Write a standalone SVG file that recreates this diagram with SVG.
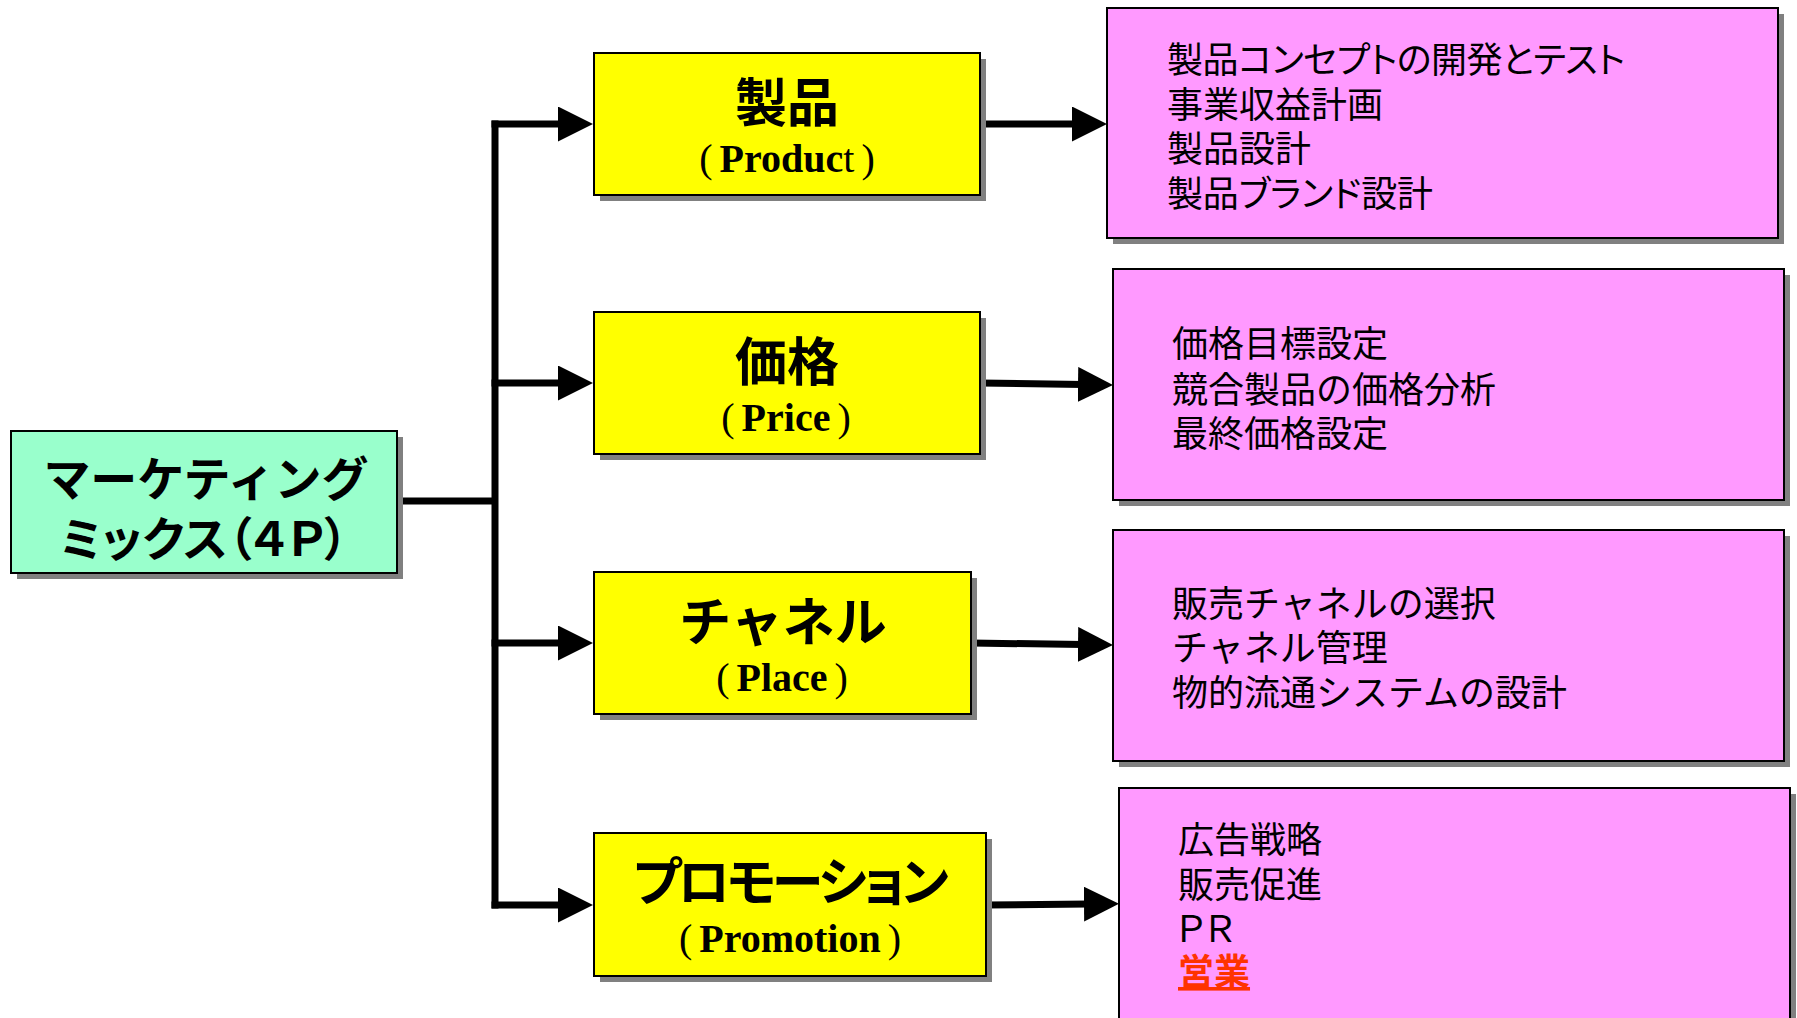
<svg xmlns="http://www.w3.org/2000/svg" width="1797" height="1018" viewBox="0 0 1797 1018">
<style>
.box{stroke:#000;stroke-width:2}
.shadow{fill:#808080}
.green{fill:#99FFCC}
.yellow{fill:#FFFF00}
.pink{fill:#FF99FF}
.conn{stroke:#000;stroke-width:7;fill:none}
.main{font-family:"Noto Sans CJK JP",sans-serif;font-weight:700;font-size:47px;fill:#000}
.cat{font-family:"Noto Sans CJK JP",sans-serif;font-weight:700;font-size:52px;fill:#000}
.en{font-family:"Liberation Serif","Noto Sans CJK JP",serif;font-size:40px;fill:#000}
.en .b{font-weight:700}
.item{font-family:"Noto Sans CJK JP",sans-serif;font-weight:400;font-size:36px;fill:#000}
.palt{font-feature-settings:"palt"}
.red{fill:#FF3300;font-weight:700;text-decoration:underline}
</style>
<defs>
<marker id="arr" markerUnits="userSpaceOnUse" markerWidth="36" markerHeight="36" refX="5" refY="17.5" orient="auto">
<path d="M0,0 L35,17.5 L0,35 Z" fill="#000"/>
</marker>
</defs>

<g id="connectors">
<line class="conn" x1="397" y1="501" x2="495" y2="501"/>
<line class="conn" x1="495" y1="120.5" x2="495" y2="908.5"/>
<line class="conn" x1="491.5" y1="124" x2="563" y2="124" marker-end="url(#arr)"/>
<line class="conn" x1="491.5" y1="383" x2="563" y2="383" marker-end="url(#arr)"/>
<line class="conn" x1="491.5" y1="643" x2="563" y2="643" marker-end="url(#arr)"/>
<line class="conn" x1="491.5" y1="905" x2="563" y2="905" marker-end="url(#arr)"/>
<line class="conn" x1="980" y1="124" x2="1077" y2="124" marker-end="url(#arr)"/>
<line class="conn" x1="980" y1="383" x2="1083" y2="384.5" marker-end="url(#arr)"/>
<line class="conn" x1="971" y1="643" x2="1083" y2="644.5" marker-end="url(#arr)"/>
<line class="conn" x1="986" y1="905" x2="1089" y2="904" marker-end="url(#arr)"/>
</g>

<g id="marketing-mix">
<rect class="shadow" x="17" y="437" width="386" height="142"/>
<rect class="box green" x="11" y="431" width="386" height="142"/>
<text class="main" x="206" y="496" text-anchor="middle">マーケティング</text>
<text class="main palt" x="204" y="556" text-anchor="middle" textLength="288">ミックス（４Ｐ）</text>
</g>

<g id="product">
<rect class="shadow" x="600" y="59" width="386" height="142"/>
<rect class="box yellow" x="594" y="53" width="386" height="142"/>
<text class="cat" x="787" y="122" text-anchor="middle">製品</text>
<text class="en" x="787" y="172" text-anchor="middle">(<tspan class="b" dx="7">Produc</tspan>t<tspan dx="7">)</tspan></text>
</g>

<g id="price">
<rect class="shadow" x="600" y="318" width="386" height="142"/>
<rect class="box yellow" x="594" y="312" width="386" height="142"/>
<text class="cat" x="787" y="381" text-anchor="middle">価格</text>
<text class="en" x="786" y="431" text-anchor="middle">(<tspan class="b" dx="7">Price</tspan><tspan dx="7">)</tspan></text>
</g>

<g id="place">
<rect class="shadow" x="600" y="578" width="377" height="142"/>
<rect class="box yellow" x="594" y="572" width="377" height="142"/>
<text class="cat" x="783" y="641" text-anchor="middle">チャネル</text>
<text class="en" x="782" y="691" text-anchor="middle">(<tspan class="b" dx="7">Place</tspan><tspan dx="7">)</tspan></text>
</g>

<g id="promotion">
<rect class="shadow" x="600" y="839" width="392" height="143"/>
<rect class="box yellow" x="594" y="833" width="392" height="143"/>
<text class="cat palt" x="791" y="901" text-anchor="middle" textLength="316">プロモーション</text>
<text class="en" x="790" y="952" text-anchor="middle">(<tspan class="b" dx="7">Promotion</tspan><tspan dx="7">)</tspan></text>
</g>

<g id="product-items">
<rect class="shadow" x="1113" y="14" width="671" height="230"/>
<rect class="box pink" x="1107" y="8" width="671" height="230"/>
<text class="item palt" x="1167" y="73" textLength="458">製品コンセプトの開発とテスト</text>
<text class="item" x="1167" y="118">事業収益計画</text>
<text class="item" x="1167" y="162">製品設計</text>
<text class="item palt" x="1167" y="207" textLength="266">製品ブランド設計</text>
</g>

<g id="price-items">
<rect class="shadow" x="1119" y="275" width="671" height="231"/>
<rect class="box pink" x="1113" y="269" width="671" height="231"/>
<text class="item" x="1172" y="357">価格目標設定</text>
<text class="item" x="1172" y="403">競合製品の価格分析</text>
<text class="item" x="1172" y="447">最終価格設定</text>
</g>

<g id="place-items">
<rect class="shadow" x="1119" y="536" width="671" height="231"/>
<rect class="box pink" x="1113" y="530" width="671" height="231"/>
<text class="item" x="1172" y="617">販売チャネルの選択</text>
<text class="item" x="1172" y="661">チャネル管理</text>
<text class="item" x="1172" y="706">物的流通システムの設計</text>
</g>

<g id="promotion-items">
<rect class="shadow" x="1125" y="794" width="671" height="240"/>
<rect class="box pink" x="1119" y="788" width="671" height="240"/>
<text class="item" x="1178" y="853">広告戦略</text>
<text class="item" x="1178" y="898">販売促進</text>
<text class="item" y="942"><tspan x="1173">Ｐ</tspan><tspan x="1202">Ｒ</tspan></text>
<text class="item red" x="1178" y="985">営業</text>
</g>
</svg>
